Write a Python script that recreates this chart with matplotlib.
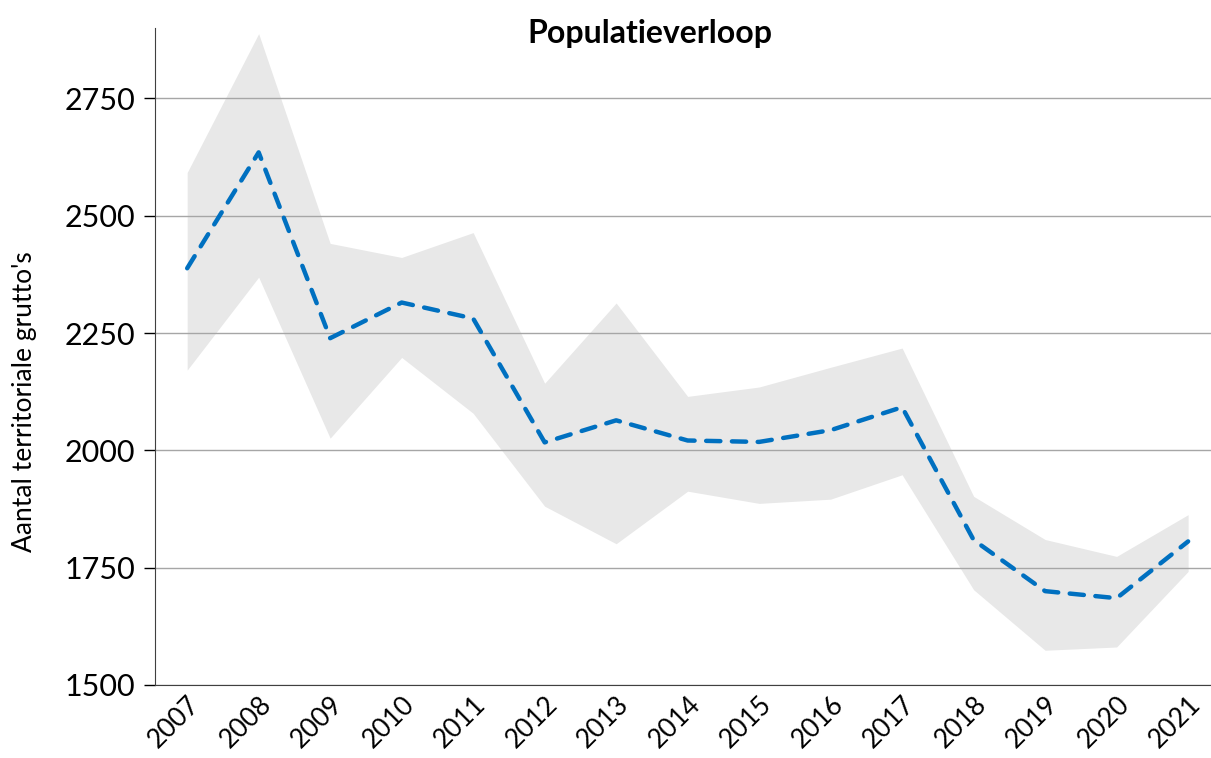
import matplotlib.pyplot as plt
import numpy as np

plt.rcParams['font.family'] = ['Lato', 'DejaVu Sans']

years = ['2007', '2008', '2009', '2010', '2011', '2012', '2013', '2014',
         '2015', '2016', '2017', '2018', '2019', '2020', '2021']
estimate = [2388, 2635, 2239, 2315, 2281, 2017, 2064, 2021,
            2018, 2043, 2092, 1809, 1700, 1685, 1806]
upper = [2592, 2888, 2441, 2411, 2464, 2143, 2314, 2115,
         2135, 2177, 2218, 1902, 1810, 1774, 1863]
lower = [2171, 2369, 2026, 2198, 2079, 1881, 1801, 1913,
         1887, 1896, 1948, 1703, 1574, 1581, 1742]
yticks = [1500, 1750, 2000, 2250, 2500, 2750]

x = np.arange(len(years))

fig = plt.figure(figsize=(12.11, 7.58), dpi=100)
ax = fig.add_axes([155 / 1211, 73 / 758, 1056 / 1211, 657 / 758])

ax.fill_between(x, lower, upper, color='#e8e8e8', linewidth=0, zorder=1)
ax.plot(x, estimate, color='#0070c0', linewidth=3.2, linestyle=(0, (3.2, 2.6)),
        dash_capstyle='round', solid_joinstyle='round', zorder=3)

ax.set_yticks(yticks)
ax.set_ylim(1500, 2900)
ax.set_xlim(-0.45, 14.32)
ax.yaxis.grid(True, color='#a6a6a6', linewidth=1)
for line in ax.get_ygridlines():
    line.set_zorder(2)

ax.set_xticks(x)
ax.set_xticklabels(years, rotation=45, ha='right', rotation_mode='anchor')
ax.tick_params(axis='x', length=0, labelsize=19, pad=5)
ax.tick_params(axis='y', length=8, width=1, labelsize=22, pad=6)

ax.spines['top'].set_visible(False)
ax.spines['right'].set_visible(False)
ax.spines['left'].set_color('#404040')
ax.spines['bottom'].set_color('#404040')

ax.set_ylabel("Aantal territoriale grutto's", fontsize=19)
ax.yaxis.set_label_coords(-0.112, 0.431)
fig.text(650 / 1211, 1 - 33 / 758, 'Populatieverloop', fontsize=23,
         fontweight='bold', ha='center', va='center')

fig.savefig('out.png', dpi=100)
